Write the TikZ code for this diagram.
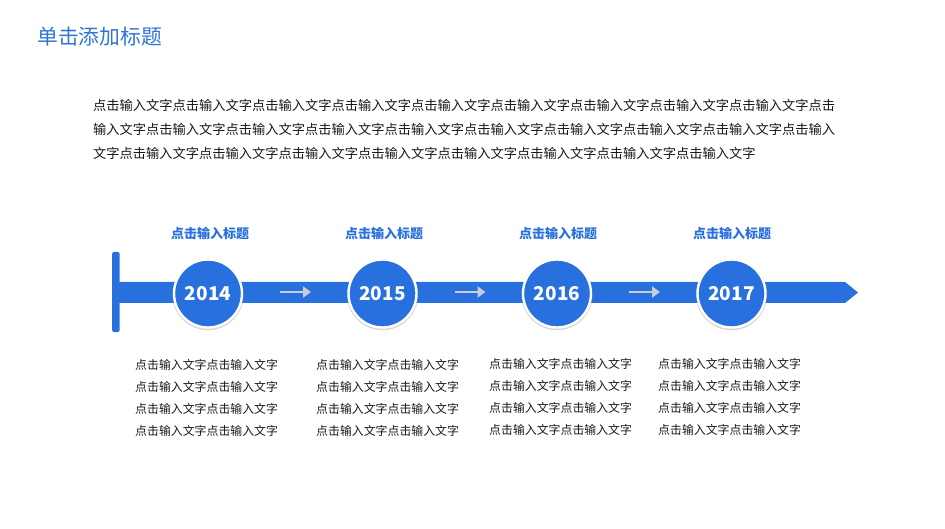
\documentclass[tikz,border=0pt]{standalone}
\usepackage{fontspec}
\setmainfont{Noto Sans CJK SC}
\usetikzlibrary{arrows.meta,shadows}
\definecolor{mainblue}{RGB}{40,112,222}
\definecolor{titleblue}{RGB}{46,117,214}
\definecolor{txt}{RGB}{25,25,25}
\definecolor{arrowgray}{RGB}{200,205,214}
\tikzset{
  yearc/.style={circle, minimum size=68pt, inner sep=0pt, fill=mainblue, draw=white, line width=2.4pt,
    text=white, font=\bfseries\fontsize{19}{19}\selectfont,
    general shadow={fill=black!50, opacity=0.3, shadow scale=1.05, shadow yshift=-1pt}},
  headt/.style={text=mainblue, font=\bfseries\fontsize{13}{15}\selectfont, inner sep=0pt},
  bodyt/.style={text=txt, font=\fontsize{11.9}{22}\selectfont, align=left, anchor=west, inner sep=0pt},
  paret/.style={text=txt, font=\fontsize{13.25}{24}\selectfont, align=left, anchor=west, inner sep=0pt},
  garrow/.style={arrowgray, line width=2.2pt, -{Triangle[length=8pt,width=11pt]}}
}
\begin{document}
\begin{tikzpicture}[x=1pt,y=-1pt]
\useasboundingbox (0,0) rectangle (945,529);
\fill[white] (0,0) rectangle (945,529);

\node[anchor=west, inner sep=0pt, text=titleblue, font=\fontsize{20.8}{24}\selectfont] (title) at (37,37) {单击添加标题};

\node[paret] (para) at (93,129) {点击输入文字点击输入文字点击输入文字点击输入文字点击输入文字点击输入文字点击输入文字点击输入文字点击输入文字点击\\输入文字点击输入文字点击输入文字点击输入文字点击输入文字点击输入文字点击输入文字点击输入文字点击输入文字点击输入\\文字点击输入文字点击输入文字点击输入文字点击输入文字点击输入文字点击输入文字点击输入文字点击输入文字};

% timeline bar
\fill[mainblue] (118,282) -- (845,282) -- (858,292.5) -- (845,303) -- (118,303) -- cycle;
\fill[mainblue, rounded corners=1.5pt] (112,252) rectangle (119.5,332);

% circles
\node[yearc] (c1) at (208,293.5) {2014};
\node[yearc] (c2) at (382.5,293.5) {2015};
\node[yearc] (c3) at (557,293.5) {2016};
\node[yearc] (c4) at (731.5,293.5) {2017};

% arrows
\coordinate (a1s) at (280,292); \coordinate (a1e) at (311,292);
\coordinate (a2s) at (454.5,292); \coordinate (a2e) at (485.5,292);
\coordinate (a3s) at (629,292); \coordinate (a3e) at (660,292);
\draw[garrow] (a1s) -- (a1e);
\draw[garrow] (a2s) -- (a2e);
\draw[garrow] (a3s) -- (a3e);

% headings
\node[headt] (h1) at (210,234) {点击输入标题};
\node[headt] (h2) at (384,234) {点击输入标题};
\node[headt] (h3) at (558,234) {点击输入标题};
\node[headt] (h4) at (732,234) {点击输入标题};

% body texts
\node[bodyt] (t1) at (135,398) {点击输入文字点击输入文字\\点击输入文字点击输入文字\\点击输入文字点击输入文字\\点击输入文字点击输入文字};
\node[bodyt] (t2) at (316,398) {点击输入文字点击输入文字\\点击输入文字点击输入文字\\点击输入文字点击输入文字\\点击输入文字点击输入文字};
\node[bodyt] (t3) at (489,397) {点击输入文字点击输入文字\\点击输入文字点击输入文字\\点击输入文字点击输入文字\\点击输入文字点击输入文字};
\node[bodyt] (t4) at (658,397) {点击输入文字点击输入文字\\点击输入文字点击输入文字\\点击输入文字点击输入文字\\点击输入文字点击输入文字};
\end{tikzpicture}
\end{document}
